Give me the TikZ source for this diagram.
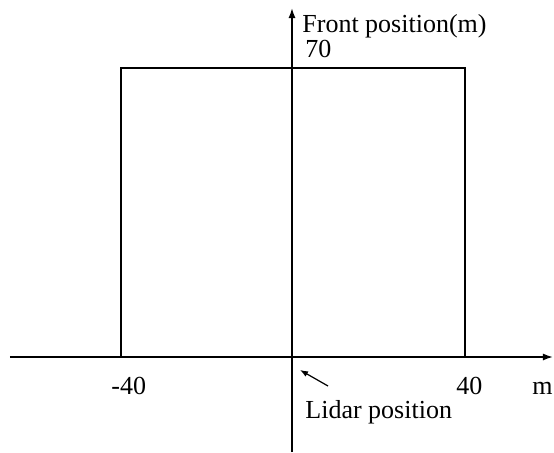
\documentclass[tikz,border=0pt]{standalone}
\usepackage{fontspec}
\setmainfont{Liberation Serif}
\usetikzlibrary{arrows.meta,positioning}

\begin{document}
\begin{tikzpicture}[
x=0.5pt, y=-0.5pt,
every node/.style={
        font=\fontsize{13}{15}\selectfont, inner sep=0pt
    },
axis/.style = {line width=0.8pt, -{Latex[length=5pt,width=3.5pt]}},
area/.style = {draw, line width=0.6pt},
pointer/.style = {line width=0.6pt, -{Latex[length=4pt,width=3pt]}}
    ]
\useasboundingbox (0,0) rectangle (554,452);
% detection area
\draw[area] (121,357) rectangle (465,68);
% axes
\coordinate (O) at (292,357);
\coordinate (xstart) at (10,357);
\coordinate (xend) at (553,357);
\coordinate (ystart) at (292,452);
\coordinate (yend) at (292,8);
\draw[axis] (xstart) -- (xend);
\draw[axis] (ystart) -- (yend);
% labels
\node (Front) [anchor=base west] at (302,32) {Front position(m)};
\node (Top)   [anchor=base west] at (305,57) {70};
\node (Left)  [anchor=base west] at (111,394) {-40};
\node (Right) [anchor=base west] at (456,394) {40};
\node (Unit)  [anchor=base west] at (532,394) {m};
\node (Lidar) [anchor=base west] at (305,418) {Lidar position};
\coordinate (tail) at (328,386);
\coordinate (tip) at (300,370);
\draw[pointer] (tail) -- (tip);
\end{tikzpicture}
\end{document}
